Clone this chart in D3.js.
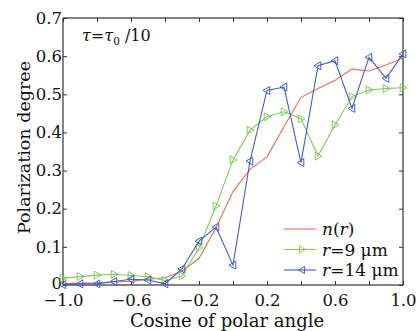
<!DOCTYPE html>
<html>
<head>
<meta charset="utf-8">
<script src="https://cdn.jsdelivr.net/npm/d3@7"></script>
<style>
  body { margin: 0; background: #fff; }
  text { font-family: "DejaVu Serif", serif; fill: #111; }
</style>
</head>
<body>
<div id="chart"></div>
<script>
// cosine of polar angle, step 0.1
const cosTheta = [-1.0, -0.9, -0.8, -0.7, -0.6, -0.5, -0.4, -0.3, -0.2, -0.1, 0.0,
                  0.1, 0.2, 0.3, 0.4, 0.5, 0.6, 0.7, 0.8, 0.9, 1.0];
const nr   = [0.003, 0.005, 0.006, 0.008, 0.010, 0.015, 0.019, 0.036, 0.070, 0.150, 0.245,
              0.303, 0.336, 0.415, 0.492, 0.515, 0.537, 0.566, 0.561, 0.577, 0.595];
const r9   = [0.018, 0.022, 0.026, 0.028, 0.025, 0.022, 0.012, 0.024, 0.097, 0.207, 0.328,
              0.406, 0.441, 0.454, 0.436, 0.338, 0.420, 0.494, 0.511, 0.515, 0.517];
const r14  = [0.001, 0.003, 0.003, 0.009, 0.015, 0.013, 0.003, 0.042, 0.115, 0.152, 0.052,
              0.325, 0.510, 0.519, 0.321, 0.575, 0.588, 0.463, 0.597, 0.542, 0.606];
const xTicks = [-1.0, -0.8, -0.6, -0.4, -0.2, 0.0, 0.2, 0.4, 0.6, 0.8, 1.0];
const xLabels = [-1.0, -0.6, -0.2, 0.2, 0.6, 1.0];
const yTicks = [0, 0.1, 0.2, 0.3, 0.4, 0.5, 0.6, 0.7];

const width = 416, height = 331;
const margin = { top: 18, right: 13, bottom: 46, left: 63 };
const iw = width - margin.left - margin.right;
const ih = height - margin.top - margin.bottom;

const colors = { nr: '#f26a50', r9: '#7fcb5c', r14: '#3d5fc6' };

const svg = d3.select('#chart').append('svg')
  .attr('width', width).attr('height', height);
const g = svg.append('g').attr('transform', `translate(${margin.left},${margin.top})`);

const x = d3.scaleLinear().domain([-1, 1]).range([0, iw]);
const y = d3.scaleLinear().domain([0, 0.7]).range([ih, 0]);

const fmtX = d => (d < 0 ? '\u2212' : '') + Math.abs(d).toFixed(1);
const fmtY = d => d === 0 ? '0' : d.toFixed(1);

// axes (ticks pointing inward)
const axBottom = g.append('g').attr('transform', `translate(0,${ih})`)
  .call(d3.axisBottom(x).tickValues(xTicks).tickSizeInner(-4).tickSizeOuter(0)
    .tickFormat(d => xLabels.some(v => Math.abs(v - d) < 1e-9) ? fmtX(d) : ''));
axBottom.selectAll('text').attr('dy', null).attr('y', 21).style('font-size', '16.5px');

const axTop = g.append('g')
  .call(d3.axisTop(x).tickValues(xTicks).tickSizeInner(-4).tickSizeOuter(0).tickFormat(''));

const axLeft = g.append('g')
  .call(d3.axisLeft(y).tickValues(yTicks).tickSizeInner(-4).tickSizeOuter(0).tickFormat(fmtY));
axLeft.selectAll('text').attr('x', -1).style('font-size', '16.5px')
  .attr('dy', d => d === 0 ? '0.2em' : '0.32em');

const axRight = g.append('g').attr('transform', `translate(${iw},0)`)
  .call(d3.axisRight(y).tickValues(yTicks).tickSizeInner(-4).tickSizeOuter(0).tickFormat(''));

[axBottom, axTop, axLeft, axRight].forEach(a => {
  a.select('.domain').remove();
  a.selectAll('line').attr('stroke', '#333');
});

g.append('rect').attr('width', iw).attr('height', ih)
  .attr('fill', 'none').attr('stroke', '#333').attr('stroke-width', 1.2);

// titles
svg.append('text').attr('x', margin.left + iw / 2 - 6).attr('y', 327)
  .attr('text-anchor', 'middle').style('font-size', '18px')
  .text('Cosine of polar angle');
svg.append('text').attr('transform', `translate(30,${margin.top + ih / 2 - 4}) rotate(-90)`)
  .attr('text-anchor', 'middle').style('font-size', '17.5px')
  .text('Polarization  degree');

// annotation
const ann = svg.append('text').attr('x', 82).attr('y', 41).style('font-size', '16px');
ann.append('tspan').style('font-style', 'italic').text('\u03c4');
ann.append('tspan').text('=');
ann.append('tspan').style('font-style', 'italic').text('\u03c4');
ann.append('tspan').attr('dy', 4).style('font-size', '10.5px').text('0');
ann.append('tspan').attr('dy', -4).text(' /10');

// markers
const triRight = s => `M${-s * 0.7},${-s} L${s},0 L${-s * 0.7},${s} Z`;
const triLeft = s => `M${s * 0.7},${-s} L${-s},0 L${s * 0.7},${s} Z`;

const line = d3.line().x((d, i) => x(cosTheta[i])).y(d => y(d));

const series = [
  { key: 'nr', values: nr, marker: null },
  { key: 'r9', values: r9, marker: triRight },
  { key: 'r14', values: r14, marker: triLeft }
];

series.forEach(s => {
  g.append('path').datum(s.values)
    .attr('fill', 'none').attr('stroke', colors[s.key]).attr('stroke-width', 1.1)
    .attr('d', line);
  if (s.marker) {
    g.selectAll(null).data(s.values).enter().append('path')
      .attr('transform', (d, i) => `translate(${x(cosTheta[i])},${y(d)})`)
      .attr('d', s.marker(4))
      .attr('fill', 'none').attr('stroke', colors[s.key]).attr('stroke-width', 1);
  }
});

// legend
const legendItems = [
  { key: 'nr', marker: null, parts: [['n', true], ['(', false], ['r', true], [')', false]] },
  { key: 'r9', marker: triRight, parts: [['r', true], ['=9 \u03bcm', false]] },
  { key: 'r14', marker: triLeft, parts: [['r', true], ['=14 \u03bcm', false]] }
];
const lg = svg.append('g').attr('transform', 'translate(284,229)');
legendItems.forEach((it, i) => {
  const row = lg.append('g').attr('transform', `translate(0,${i * 20.5})`);
  row.append('line').attr('x1', 0).attr('x2', 32)
    .attr('stroke', colors[it.key]).attr('stroke-width', 1.1);
  if (it.marker) {
    row.append('path').attr('transform', 'translate(18,0)').attr('d', it.marker(3.5))
      .attr('fill', 'none').attr('stroke', colors[it.key]);
  }
  const t = row.append('text').attr('x', 38).attr('y', 6).style('font-size', '17px');
  it.parts.forEach(p => t.append('tspan').style('font-style', p[1] ? 'italic' : 'normal').text(p[0]));
});
</script>
</body>
</html>
